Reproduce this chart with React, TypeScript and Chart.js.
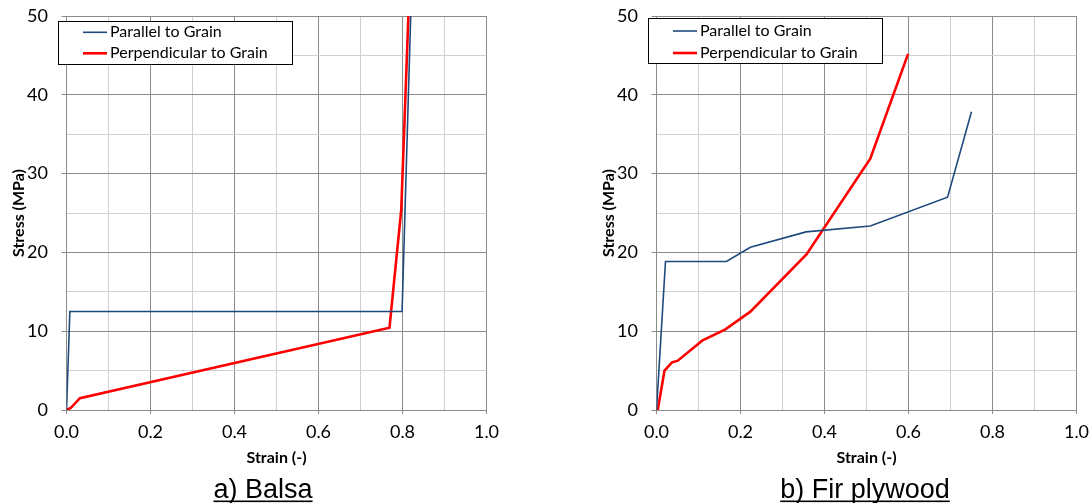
import React, { useEffect, useRef } from 'react';
import { Chart, registerables } from 'chart.js';

Chart.register(...registerables);

// ---------- data ----------
const seriesNames = ['Parallel to Grain', 'Perpendicular to Grain'];
const xTickLabels = ['0.0', '', '0.2', '', '0.4', '', '0.6', '', '0.8', '', '1.0'];
const yTickLabels = ['0', '', '10', '', '20', '', '30', '', '40', '', '50'];
const xAxisTitle = 'Strain (-)';
const yAxisTitle = 'Stress (MPa)';
const captions = ['a) Balsa', 'b) Fir plywood'];

const balsaParallelStrain = [0, 0.008, 0.799, 0.8195];
const balsaParallelStress = [0, 12.5, 12.5, 50];
const balsaPerpStrain = [0, 0.01, 0.032, 0.769, 0.797, 0.814];
const balsaPerpStress = [0, 0.25, 1.5, 10.45, 25.4, 50];

const firParallelStrain = [0, 0.0214, 0.1665, 0.2235, 0.356, 0.509, 0.693, 0.75];
const firParallelStress = [0, 18.85, 18.85, 20.65, 22.6, 23.35, 27.0, 37.86];
const firPerpStrain = [0.003, 0.019, 0.037, 0.0507, 0.1087, 0.164, 0.2235, 0.357, 0.509, 0.599];
const firPerpStress = [0, 5.0, 6.05, 6.26, 8.8, 10.24, 12.48, 19.75, 31.9, 45.2];

// ---------- styles ----------
const BLUE = '#1F497D';
const RED = '#FF0000';
const MAJOR = '#8c8c8c';
const MINOR = '#d0d0d0';
const FONT = 'Lato, "Open Sans", sans-serif';

const toPoints = (xs: number[], ys: number[]) => xs.map((x, i) => ({ x, y: ys[i] }));

const overlayPlugin = {
  id: 'overlay',
  afterDraw(chart: any, _args: any, opts: any) {
    const ctx = chart.ctx as CanvasRenderingContext2D;
    const { box, caption, captionX, rowY } = opts;
    ctx.save();
    ctx.fillStyle = '#ffffff';
    ctx.fillRect(box.x, box.y, box.w, box.h);
    ctx.strokeStyle = '#000000';
    ctx.lineWidth = 1;
    ctx.strokeRect(box.x + 0.5, box.y + 0.5, box.w, box.h);
    chart.data.datasets.forEach((ds: any, i: number) => {
      const y = box.y + rowY[i];
      ctx.strokeStyle = ds.borderColor;
      ctx.lineWidth = ds.borderWidth;
      ctx.beginPath();
      ctx.moveTo(box.x + 25, y);
      ctx.lineTo(box.x + 49, y);
      ctx.stroke();
      ctx.fillStyle = '#000000';
      ctx.font = `16px ${FONT}`;
      ctx.textAlign = 'left';
      ctx.textBaseline = 'middle';
      ctx.fillText(ds.label, box.x + 52, y);
    });
    ctx.fillStyle = '#000000';
    ctx.font = '27px "Liberation Sans", Arial, sans-serif';
    ctx.textAlign = 'center';
    ctx.textBaseline = 'alphabetic';
    ctx.fillText(caption, captionX, 498);
    const w = ctx.measureText(caption).width;
    ctx.fillRect(captionX - w / 2, 500.5, w, 1.6);
    ctx.restore();
  },
};

function StressStrainChart(props: {
  left: number;
  parallel: { x: number; y: number }[];
  perp: { x: number; y: number }[];
  perpWidth: number;
  box: { x: number; y: number; w: number; h: number };
  rowY: number[];
  caption: string;
  captionX: number;
}) {
  const ref = useRef<HTMLCanvasElement | null>(null);
  useEffect(() => {
    if (!ref.current) return;
    const chart = new Chart(ref.current, {
      type: 'line',
      data: {
        datasets: [
          {
            label: seriesNames[0],
            data: props.parallel,
            borderColor: BLUE,
            backgroundColor: BLUE,
            borderWidth: 1.6,
            pointRadius: 0,
            tension: 0,
          },
          {
            label: seriesNames[1],
            data: props.perp,
            borderColor: RED,
            backgroundColor: RED,
            borderWidth: props.perpWidth,
            pointRadius: 0,
            tension: 0,
          },
        ],
      },
      options: {
        animation: false,
        responsive: false,
        maintainAspectRatio: false,
        events: [],
        layout: { padding: { top: 16, left: 0, right: 23.5, bottom: 0 } },
        plugins: {
          legend: { display: false },
          tooltip: { enabled: false },
          overlay: { box: props.box, rowY: props.rowY, caption: props.caption, captionX: props.captionX },
        } as any,
        scales: {
          x: {
            type: 'linear',
            min: 0,
            max: 1,
            ticks: {
              stepSize: 0.1,
              autoSkip: false,
              maxRotation: 0,
              padding: 7,
              color: '#000000',
              font: { family: FONT, size: 18 },
              callback: (_v: any, i: number) => xTickLabels[i] ?? '',
            },
            grid: {
              color: (c: any) => (c.index % 2 === 0 ? MAJOR : MINOR),
              tickColor: (c: any) => (c.index % 2 === 0 ? MAJOR : 'rgba(0,0,0,0)'),
              tickLength: 4,
              lineWidth: 1,
            },
            border: { color: MAJOR, width: 1 },
            title: {
              display: true,
              text: xAxisTitle,
              color: '#000000',
              font: { family: FONT, size: 16, weight: 'bold' },
              padding: { top: 0, bottom: 35.5 },
            },
            afterFit: (s: any) => {
              s.height = 93;
              s.paddingLeft = 0;
              s.paddingRight = 0;
            },
          },
          y: {
            type: 'linear',
            min: 0,
            max: 50,
            ticks: {
              stepSize: 5,
              autoSkip: false,
              padding: 13.5,
              color: '#000000',
              font: { family: FONT, size: 18 },
              callback: (_v: any, i: number) => yTickLabels[i] ?? '',
            },
            grid: {
              color: (c: any) => (c.index % 2 === 0 ? MAJOR : MINOR),
              tickColor: (c: any) => (c.index % 2 === 0 ? MAJOR : 'rgba(0,0,0,0)'),
              tickLength: 5,
              lineWidth: 1,
            },
            border: { color: MAJOR, width: 1 },
            title: {
              display: true,
              text: yAxisTitle,
              color: '#000000',
              font: { family: FONT, size: 16, weight: 'bold' },
              padding: { top: 9, bottom: 0 },
            },
            afterFit: (s: any) => {
              s.width = 66.5;
              s.paddingTop = 0;
              s.paddingBottom = 0;
            },
          },
        },
      } as any,
      plugins: [overlayPlugin],
    });
    return () => chart.destroy();
  }, []);
  return (
    <canvas
      ref={ref}
      width={510}
      height={503}
      style={{ position: 'absolute', left: props.left, top: 0, width: 510, height: 503 }}
    />
  );
}

export default function App() {
  return (
    <div
      style={{
        position: 'fixed',
        left: 0,
        top: 0,
        width: 1089,
        height: 503,
        overflow: 'hidden',
        background: '#ffffff',
      }}
    >
      <StressStrainChart
        left={0}
        parallel={toPoints(balsaParallelStrain, balsaParallelStress)}
        perp={toPoints(balsaPerpStrain, balsaPerpStress)}
        perpWidth={2.6}
        box={{ x: 58, y: 21, w: 234, h: 43 }}
        rowY={[11.3, 32.3]}
        caption={captions[0]}
        captionX={263}
      />
      <StressStrainChart
        left={590}
        parallel={toPoints(firParallelStrain, firParallelStress)}
        perp={toPoints(firPerpStrain, firPerpStress)}
        perpWidth={2.6}
        box={{ x: 58, y: 18, w: 234, h: 45 }}
        rowY={[13, 35]}
        caption={captions[1]}
        captionX={275}
      />
    </div>
  );
}
